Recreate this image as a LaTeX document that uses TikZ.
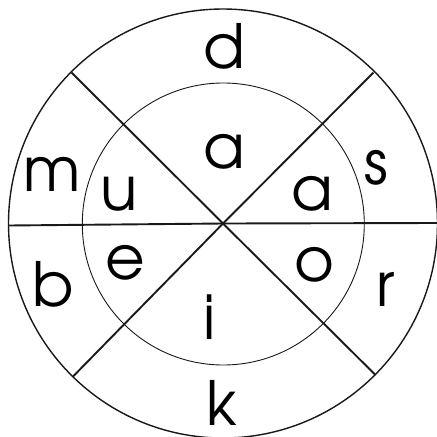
\documentclass[tikz,border=0pt]{standalone}
\usepackage{fontspec}
\setmainfont{TeX Gyre Adventor}
\usetikzlibrary{calc}
\begin{document}
\begin{tikzpicture}[x=1pt,y=-1pt,
  letter/.style={anchor=base,inner sep=0pt,font=\fontsize{61}{61}\selectfont},
  spoke/.style={line width=1.9pt,draw=black!90},
  rim/.style={line width=1.4pt,draw=black!90},
  ring/.style={line width=0.9pt,draw=black!90}]
\useasboundingbox (0,0) rectangle (437,437);
\coordinate (c) at (223,223.5);
\coordinate (ci) at (223.3,224);
\draw[rim] (c) circle[radius=214.5];
\draw[ring] (ci) circle[radius=141];
\coordinate (nw) at ($(c)+(-151.5,-151)$);
\coordinate (se) at ($(c)+(152.5,151.5)$);
\coordinate (ne) at ($(c)+(150.5,-151)$);
\coordinate (sw) at ($(c)+(-150,153)$);
\coordinate (w) at (8.5,225.5);
\coordinate (e) at (437.5,223);
\draw[spoke] (nw) -- (c) -- (se);
\draw[spoke] (ne) -- (c) -- (sw);
\draw[spoke] (w) -- (c) -- (e);
\node[letter] (d) at (224,68.3) {d};
\node[letter] (a1) at (224,168) {a};
\node[letter] (m) at (52.2,191.7) {m};
\node[letter] (u) at (119.3,210.3) {u};
\node[letter] (s) at (376.8,184.8) {s};
\node[letter] (a2) at (312.5,210.3) {a};
\node[letter] (b) at (53.3,306.5) {b};
\node[letter] (ee) at (125,279.5) {e};
\node[letter] (o) at (314.8,281) {o};
\node[letter] (r) at (385.8,306.7) {r};
\node[letter] (i) at (209.8,339.3) {i};
\node[letter] (k) at (221.7,425) {k};
\end{tikzpicture}
\end{document}
